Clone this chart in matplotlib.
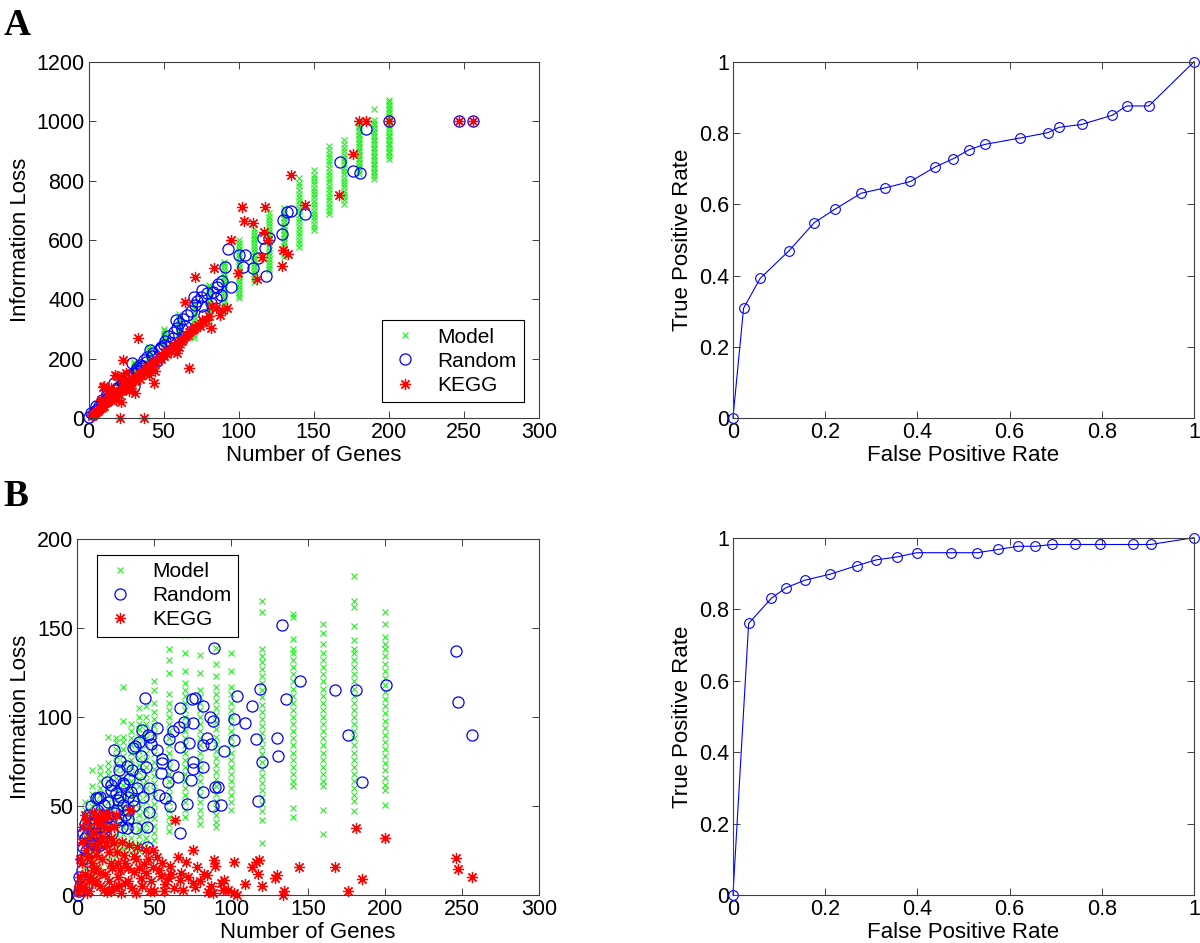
import matplotlib
matplotlib.use("Agg")
import matplotlib.pyplot as plt

plt.rcParams['font.family'] = ['Liberation Sans', 'DejaVu Sans']

# ---------------- panel A : scatter ----------------
a_model_x = [10, 20, 30, 40, 50, 60, 70, 80, 90, 100, 110, 120, 130, 140, 150, 160, 170, 180, 190, 200]
a_model_y = [
    [30, 35, 40, 45, 50, 55, 60, 65, 70],
    [68, 75, 82, 89, 96, 103, 110, 117, 124, 130],
    [118, 126, 134, 142, 150, 158, 166, 174, 182, 188],
    [162, 170, 178, 186, 194, 202, 210, 218, 226, 234, 240],
    [212, 220, 228, 236, 244, 252, 260, 268, 276, 284, 292, 300],
    [262, 270, 278, 286, 294, 302, 310, 318, 326, 334, 342, 352],
    [270, 280, 290, 300, 310, 320, 330, 340, 350, 360, 370, 380, 395],
    [330, 340, 350, 360, 370, 380, 390, 400, 410, 420, 430, 440, 448],
    [360, 370, 380, 390, 400, 410, 420, 430, 440, 450, 460, 470, 480, 490, 500, 510, 518, 525],
    [403, 412, 422, 432, 441, 450, 460, 470, 480, 490, 500, 510, 520, 530, 540, 550, 560, 570, 580, 590, 599],
    [459, 468, 478, 488, 498, 508, 518, 528, 538, 548, 558, 568, 578, 588, 598, 608, 618, 628, 638],
    [498, 507, 517, 527, 537, 547, 557, 567, 577, 587, 597, 607, 617, 627, 637, 647, 657, 667, 678, 689],
    [543, 552, 561, 570, 579, 588, 597, 606, 615, 624, 633, 642, 651, 660, 669, 678, 687, 696, 706],
    [576, 588, 600, 612, 624, 636, 648, 660, 672, 684, 696, 708, 720, 732, 744, 756, 768, 780, 793, 807],
    [633, 644, 655, 666, 677, 688, 699, 710, 721, 732, 743, 754, 765, 776, 787, 798, 809, 820, 834],
    [686, 698, 710, 722, 734, 746, 758, 770, 782, 794, 806, 818, 830, 842, 854, 866, 878, 890, 902, 915],
    [722, 733, 744, 755, 766, 777, 788, 799, 810, 821, 832, 843, 854, 865, 876, 887, 898, 910, 922, 935],
    [823, 832, 841, 850, 859, 868, 877, 886, 895, 904, 913, 922, 931, 940, 949, 958, 967, 976, 985, 991],
    [806, 815, 824, 833, 842, 851, 860, 869, 878, 887, 896, 905, 914, 923, 932, 941, 950, 959, 968,
     977, 986, 995, 1003, 1042],
    [874, 883, 892, 901, 910, 919, 928, 937, 946, 955, 964, 973, 982, 991, 1000, 1009, 1018, 1027,
     1036, 1045, 1054, 1063, 1072],
]

a_random_x = [200, 247, 256, 184.7, 167.3, 176, 181, 144.3, 135, 132, 129.5, 128.8, 120.3, 116.5,
              117.4, 112.7, 118, 109.3, 104, 100.3, 102.7, 92.7, 90.8, 95, 88.9, 85.6, 83, 84.9,
              81.8, 75.4, 74.6, 75.4, 77, 70, 70.6, 65.8, 58.2, 59.2, 52.8, 55, 46.8, 41, 45.6,
              29, 31.4, 25.4, 30.2, 17, 12.4, 8.8, 5.2, 1.7, 0.5,
              36, 38, 42, 48, 50, 62, 64, 22, 24, 26, 14, 16, 19, 10, 7, 3, 33, 35, 56,
              4, 6, 9, 11, 14, 18, 20, 23, 27, 32, 34, 37, 39, 43, 48, 51, 57, 60, 63, 68,
              72, 79, 86, 88, 30]
a_random_y = [1000, 1000, 1000, 975, 863, 833, 827, 687, 698, 694, 667, 620, 608, 605,
              574, 538, 478, 504, 550, 550, 510, 571, 508, 443, 460, 443, 426, 404,
              387, 432, 409, 376, 348, 409, 381, 348, 331, 303, 275, 252, 230, 230, 191,
              185, 163, 140, 107, 118, 84, 62, 39, 17, 3,
              175, 190, 210, 235, 245, 300, 310, 120, 130, 105, 80, 85, 100, 55, 40, 15, 160, 170, 270,
              25, 32, 50, 60, 75, 95, 105, 125, 145, 170, 180, 195, 205, 220, 240, 260, 290, 320, 335, 360,
              395, 420, 450, 415, 150]

a_kegg_x = [200, 247, 256, 180, 184.7, 176, 167, 135, 144.3, 102.2, 103.4, 109.3, 117.4, 117,
            119.8, 115.8, 112.2, 129.3, 128.8, 132.6, 95, 99.8, 83.7, 70.6, 88.9, 92.5, 87.7,
            81.8, 82, 75.4, 64, 67, 59.2, 32.6, 23, 43.3, 10, 20.7, 36.6, 17.4, 9.7, 30.8,
            21.9, 5, 10, 12, 15, 18, 20, 22, 25, 28, 30, 33, 35, 38, 40, 42, 45, 48, 50, 52,
            55, 58, 60, 62, 66, 70, 74, 78, 80, 85, 8, 14, 26, 31, 37, 44, 27, 24, 3,
            2, 4, 6, 7, 9, 11, 13, 14, 16, 17, 19, 21, 23, 24, 26, 27, 29, 31, 32, 34,
            36, 39, 41, 43, 46, 47, 49, 51, 53, 56, 57, 59, 61, 63, 65, 67, 69, 71, 73, 76,
            12, 15, 18, 22, 28, 34, 40, 8, 19, 25]
a_kegg_y = [1000, 1000, 1000, 1000, 1000, 891, 751, 818, 717, 710, 664, 656, 710, 628,
            600, 541, 467, 566, 513, 553, 600, 488, 504, 476, 364, 370, 348,
            303, 376, 331, 392, 168, 219, 269, 196, 118, 107, 0, 0, 145, 105, 83,
            55, 20, 40, 55, 60, 70, 80, 95, 110, 120, 130, 140, 150, 165, 170, 180, 190, 200, 210, 215,
            225, 235, 240, 260, 280, 300, 310, 330, 345, 370, 35, 75, 100, 125, 150, 160, 90, 115, 10,
            8, 15, 25, 30, 38, 50, 58, 65, 70, 78, 85, 90, 100, 108, 115, 118, 128, 135, 145, 148,
            158, 172, 180, 188, 195, 205, 212, 222, 228, 238, 245, 252, 258, 265, 275, 290, 295, 305, 315, 325,
            85, 100, 60, 130, 100, 130, 145, 60, 140, 150]

# ---------------- panel B : scatter ----------------
b_model_x = [5, 10, 15, 20, 25, 30, 35, 40, 45, 50, 60, 70, 80, 90, 100, 120, 140, 160, 180, 200]
b_model_y = [
    [4, 8, 11, 15, 18, 22, 26, 29, 33, 37, 40, 44, 48, 52],
    [10, 14, 17, 21, 25, 28, 32, 36, 39, 43, 47, 50, 54, 57, 61, 70],
    [12, 16, 20, 24, 28, 32, 36, 40, 44, 48, 52, 56, 60, 64, 68, 72],
    [16, 20, 24, 28, 32, 36, 40, 44, 48, 52, 56, 60, 64, 68, 71, 74, 89],
    [18, 22, 26, 30, 34, 38, 42, 46, 50, 54, 58, 62, 66, 70, 74, 78, 82, 86, 88],
    [22, 26, 30, 34, 38, 42, 46, 50, 54, 58, 62, 66, 70, 74, 78, 82, 86, 89, 98, 117],
    [24, 28, 32, 36, 40, 44, 48, 52, 56, 60, 64, 68, 72, 76, 80, 84, 88, 92, 96],
    [25, 29, 33, 37, 41, 45, 49, 53, 57, 61, 65, 69, 73, 77, 81, 85, 89, 93, 96, 100, 105],
    [28, 32, 36, 40, 44, 48, 52, 56, 60, 64, 68, 72, 76, 80, 84, 88, 92, 96, 100, 106],
    [31, 35, 39, 43, 47, 51, 55, 59, 63, 67, 71, 75, 79, 83, 87, 91, 95, 99, 103, 108, 115, 120],
    [36, 40, 44, 48, 52, 56, 60, 64, 68, 72, 76, 80, 84, 88, 92, 96, 100, 104, 108, 113, 125, 132, 138],
    [44, 48, 52, 56, 60, 64, 68, 72, 76, 80, 84, 88, 92, 96, 100, 104, 108, 112, 115, 119, 126, 136, 146],
    [40, 44, 48, 52, 56, 60, 64, 68, 72, 76, 80, 84, 88, 92, 96, 100, 104, 108, 111, 115, 125, 135],
    [38, 41, 45, 49, 53, 57, 61, 65, 69, 73, 77, 81, 85, 89, 93, 97, 101, 105, 109, 113, 117, 123, 130, 139],
    [48, 52, 56, 60, 64, 68, 72, 76, 80, 84, 88, 92, 96, 100, 104, 108, 113, 117, 126, 136, 149],
    [29, 42, 47, 51, 55, 59, 63, 67, 71, 75, 79, 83, 87, 91, 95, 99, 103, 107, 111, 115, 119, 123, 127,
     131, 134, 138, 159, 165],
    [44, 49, 61, 64, 68, 72, 76, 80, 84, 88, 92, 96, 100, 104, 108, 112, 116, 120, 124, 128, 132, 136,
     138, 144, 156, 158],
    [34, 48, 61, 64, 68, 72, 76, 80, 84, 88, 92, 96, 100, 104, 108, 112, 116, 120, 124, 128, 132, 136,
     141, 147, 152],
    [47, 53, 56, 60, 64, 68, 72, 76, 80, 84, 88, 92, 96, 100, 104, 108, 112, 116, 120, 124, 128, 132,
     136, 138, 143, 151, 162, 165, 179],
    [50.6, 59, 62, 66, 70, 74, 78, 82, 86, 90, 94, 98, 102, 106, 110, 114, 118, 122, 126, 130, 134,
     138, 141, 145, 152, 159],
]

b_random_x = [245.8, 247.2, 256.2, 200.3, 181, 176, 185, 167.4, 144.7, 135.4, 133.1, 129.6, 130.8,
              120.3, 117.3, 118.5, 116.2, 113.4, 109.2, 104.1, 102.2, 101.6, 95.3, 89, 88.6, 86.3,
              84.4, 86.7, 82.1, 82.1, 82.1, 88.1, 89.9, 91.4, 93.2, 75.1, 76.3, 74.9, 82.1, 75.1,
              75.1, 73, 73.7, 71.2, 69.6, 67, 66.5, 67, 65.8, 67, 62.1, 59.6, 62.4, 59.1, 60.3,
              55.4, 55.4, 54.3, 51.9, 51.9, 53.1, 57, 47.3, 45.9, 44, 46.8, 45.4, 45.4, 45, 41.7,
              42.2, 40.3, 36.4, 37.6, 35.7, 36.2, 38, 32.5, 28.1, 24.1, 30.1, 30.6, 26.4, 29.9,
              32.9, 19.5, 21.8, 25.3, 12.1, 13.4, 24.1, 19.9, 28.3, 33.4, 32.2, 16, 10.2, 11.4,
              6.7, 5.1, 9.7, 14.8, 3.7, 5.6, 3.2, 1.4, 0.5, 5.6, 17.2, 17.6, 24.8,
              2, 3, 4, 5, 6, 7, 8, 9, 10, 11, 12, 13, 14, 15, 16, 17, 18, 20, 21, 22,
              23, 26, 27, 28, 29, 31, 33, 34, 37, 39, 41, 43, 47, 48, 1, 8, 10, 19, 25, 35]
b_random_y = [137.3, 108.6, 89.9, 118, 115.2, 89.9, 63.7, 115.2, 120.4, 110.3, 151.5, 88, 78.3,
              74.5, 53, 115.7, 87.5, 106.2, 96.4, 112, 99, 87.1, 81.1, 138.6, 97.9, 100.2,
              88, 84.8, 84.3, 71.7, 58, 50.2, 60.5, 60.9, 50.7, 96.4, 110.5, 110.3, 106.4, 74.9,
              70.6, 85.2, 64.8, 50.9, 97, 105.2, 94.6, 83, 66.5, 34.8, 92.1, 87.5, 73, 63.5, 50.2,
              76.2, 74.3, 68.4, 93.6, 81.5, 56.2, 54.3, 89, 89.9, 110.5, 46.8, 38.4, 26.8, 72.1, 78.1,
              92.7, 86.1, 82.8, 83.7, 70.2, 53.4, 37.5, 72.5, 75.5, 81.5, 63.1, 62, 53.4, 50.6,
              47.8, 63.7, 59, 57.5, 54.7, 54.3, 45.9, 44, 42.1, 42.5, 37.8, 41.2, 40.3, 34.6,
              33.7, 31.8, 29, 28.1, 27.2, 20.6, 14, 10.3, 0, 5.6, 35.6, 50.6, 64.6,
              5, 20, 35, 40, 25, 45, 30, 50, 35, 43, 28, 48, 38, 55, 30, 45, 38, 52, 40, 62,
              35, 48, 70, 55, 38, 45, 55, 65, 50, 60, 68, 55, 60, 85, 2, 40, 25, 30, 42, 58]

b_kegg_x = [245.8, 247.4, 256.2, 200, 181, 185.2, 176, 167.2, 144.4, 134.7, 133.5, 129.6, 128.4,
            120.3, 117.9, 116.3, 117.3, 113.4, 108.9, 102.2, 101.8, 104.1, 95.3, 93.7, 89, 89.7,
            88.3, 84.4, 82.5, 79.8, 75.1, 76.3, 70.5, 67.7, 67, 63.5, 60.1, 58.9, 54.7, 56.6,
            51.9, 49.6, 45, 43.8, 44.5, 41.5, 36.9, 38, 33.4, 31.1, 26.4, 24.1, 21.8, 20.6, 17.2,
            14.8, 12.5, 10.7, 12.5, 14.8, 18.3, 19.5, 16, 34.5, 7.9, 5.6, 3.2, 2.1, 4.4, 7.9,
            10.2, 11.4, 0.9, 6.7, 19.5, 28.7, 38, 47.3, 26.4, 30.6, 24.1, 39.2, 49.6, 53.1, 65.8,
            75.1, 85.1, 94.8,
            1, 2, 3, 4, 5, 6, 7, 8, 9, 10, 11, 12, 13, 14, 15, 16, 17, 18, 19, 20,
            21, 22, 23, 24, 26, 27, 29, 31, 33, 34, 36, 37, 40, 42, 46, 48, 50, 55, 57, 61,
            63, 69, 72, 78, 87, 98, 5, 8, 12, 3, 17, 22, 25, 28, 9, 14]
b_kegg_y = [21, 14.6, 10.3, 32.2, 37.5, 9, 2.4, 15.9, 15.5, 2.4, 0, 11.2, 9.4,
            5.1, 19.7, 18.7, 11.8, 15.5, 6.4, 18.7, 0.9, 0, 8.4, 6.6, 19.7, 16.3,
            0.9, 11.2, 11.8, 8.1, 25.3, 4.7, 18.7, 12.2, 8.4, 42.1, 16.5, 9.4, 10.7, 2.2,
            21.5, 15.9, 12.2, 17.2, 25.3, 9.4, 13.1, 20, 15, 6.6, 10.3, 4.7, 17.8, 24.3, 2.8,
            12.2, 22.5, 45.9, 42.1, 44, 43.1, 37.5, 32.8, 47.8, 32.8, 25.3, 17.8, 10.3, 4.7, 8.4,
            14, 6.6, 1.9, 1.3, 1.9, 0.9, 0.9, 2.4, 17.8, 22.5, 29, 27.2, 25.3, 14, 21.5,
            6.6, 1.9, 2.8,
            5, 20, 30, 38, 12, 42, 22, 2, 28, 18, 35, 8, 27, 40, 5, 20, 38, 12, 28, 45,
            8, 32, 15, 38, 24, 5, 30, 18, 8, 28, 4, 22, 15, 5, 20, 8, 2, 18, 6, 12,
            4, 3, 10, 16, 5, 3, 45, 38, 15, 3, 46, 2, 45, 14, 10, 30]

# ---------------- ROC curves ----------------
roc_a_fpr = [0, 0.023, 0.059, 0.122, 0.176, 0.221, 0.278, 0.330, 0.385, 0.439, 0.478, 0.512,
             0.546, 0.623, 0.683, 0.707, 0.756, 0.823, 0.854, 0.902, 1.0]
roc_a_tpr = [0, 0.308, 0.392, 0.470, 0.548, 0.586, 0.631, 0.646, 0.664, 0.705, 0.728, 0.753,
             0.768, 0.786, 0.801, 0.816, 0.824, 0.850, 0.876, 0.876, 1.0]

roc_b_fpr = [0, 0.034, 0.083, 0.115, 0.156, 0.211, 0.269, 0.311, 0.355, 0.399, 0.474, 0.530,
             0.575, 0.618, 0.656, 0.692, 0.741, 0.796, 0.867, 0.906, 1.0]
roc_b_tpr = [0, 0.760, 0.830, 0.860, 0.881, 0.898, 0.922, 0.938, 0.946, 0.958, 0.958, 0.958,
             0.967, 0.976, 0.976, 0.981, 0.981, 0.981, 0.981, 0.981, 1.0]

green = '#22ee22'
blue = '#0000ff'
red = '#ff0000'
asterisk = (8, 2, 0)
fs = 16


def style_axes(ax):
    for s in ax.spines.values():
        s.set_color('#404040')
        s.set_linewidth(0.8)
    ax.tick_params(direction='in', top=True, right=True, length=5, width=0.7,
                   labelsize=15.5, colors='#404040', labelcolor='black', pad=3)


def scatter_panel(ax, mx, my, rx, ry, kx, ky, ymax, yticks, legloc, bbox):
    first = True
    for x, ys in zip(mx, my):
        ax.plot([x] * len(ys), ys, 'x', color=green, ms=4.5, mew=0.8, clip_on=False,
                label='Model' if first else None)
        first = False
    ax.plot(rx, ry, 'o', mfc='none', mec=blue, ms=8, mew=0.9, clip_on=False, label='Random')
    ax.plot(kx, ky, linestyle='none', marker=asterisk, color=red, ms=8, mew=0.9,
            clip_on=False, label='KEGG')
    ax.set_xlim(0, 300)
    ax.set_ylim(0, ymax)
    ax.set_xticks([0, 50, 100, 150, 200, 250, 300])
    ax.set_yticks(yticks)
    ax.set_xlabel('Number of Genes', fontsize=fs, labelpad=1)
    ax.set_ylabel('Information Loss', fontsize=fs, labelpad=4)
    leg = ax.legend(loc=legloc, bbox_to_anchor=bbox, fontsize=15, fancybox=False,
                    edgecolor='black', framealpha=1, handletextpad=0.8, borderpad=0.35,
                    labelspacing=0.25, handlelength=1.5)
    leg.get_frame().set_linewidth(0.8)
    style_axes(ax)


def roc_panel(ax, fpr, tpr):
    ax.plot(fpr, tpr, '-o', color=blue, lw=0.8, mfc='none', mec=blue, ms=7, mew=0.8,
            clip_on=False)
    ax.set_xlim(0, 1)
    ax.set_ylim(0, 1)
    ax.set_xticks([0, 0.2, 0.4, 0.6, 0.8, 1])
    ax.set_yticks([0, 0.2, 0.4, 0.6, 0.8, 1])
    ax.set_xticklabels(['0', '0.2', '0.4', '0.6', '0.8', '1'])
    ax.set_yticklabels(['0', '0.2', '0.4', '0.6', '0.8', '1'])
    ax.set_xlabel('False Positive Rate', fontsize=fs, labelpad=1)
    ax.set_ylabel('True Positive Rate', fontsize=fs, labelpad=4)
    style_axes(ax)


fig = plt.figure(figsize=(12, 9.43), dpi=100)

ax1 = fig.add_axes([0.0738, 0.5567, 0.3754, 0.3778])
scatter_panel(ax1, a_model_x, a_model_y, a_random_x, a_random_y, a_kegg_x, a_kegg_y,
              1200, [0, 200, 400, 600, 800, 1000, 1200], 'lower right', (0.99, 0.015))

ax2 = fig.add_axes([0.6108, 0.5567, 0.3842, 0.3778])
roc_panel(ax2, roc_a_fpr, roc_a_tpr)

ax3 = fig.add_axes([0.0642, 0.0509, 0.3850, 0.3775])
scatter_panel(ax3, b_model_x, b_model_y, b_random_x, b_random_y, b_kegg_x, b_kegg_y,
              200, [0, 50, 100, 150, 200], 'upper left', (0.02, 0.985))

ax4 = fig.add_axes([0.6108, 0.0509, 0.3842, 0.3789])
roc_panel(ax4, roc_b_fpr, roc_b_tpr)

fig.text(0.003, 0.992, 'A', family='Liberation Serif', weight='bold', fontsize=27, va='top')
fig.text(0.003, 0.492, 'B', family='Liberation Serif', weight='bold', fontsize=27, va='top')

fig.savefig('out.png', dpi=100)
